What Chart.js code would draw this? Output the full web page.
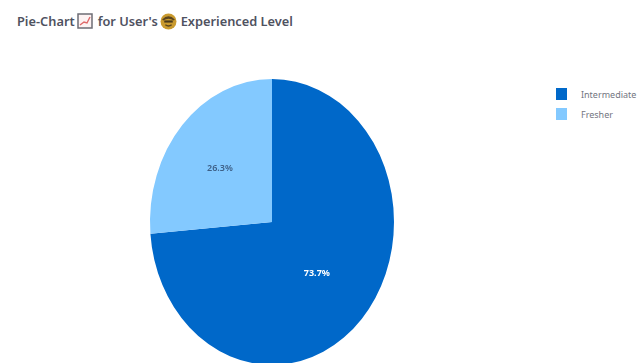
<!DOCTYPE html>
<html>
<head>
<meta charset="utf-8">
<title>Pie-Chart for User's Experienced Level</title>
<script src="https://cdn.jsdelivr.net/npm/chart.js@4"></script>
<style>
  html, body { margin: 0; padding: 0; background: #fff; overflow: hidden; }
  body { width: 638px; height: 363px; position: relative; font-family: "Noto Sans", sans-serif; }
  #heading {
    position: absolute; left: 17px; top: 12px; white-space: nowrap;
    font-size: 12.8px; font-weight: 600; color: #4f525f; line-height: 18px;
    display: flex; align-items: center;
  }
  #heading svg { flex: none; }
  #legend { position: absolute; left: 556px; top: 88px; }
  .item { display: flex; align-items: center; height: 12px; margin-bottom: 8px; font-size: 9px; color: #73767f; white-space: nowrap; }
  .swatch { width: 11px; height: 12px; margin-right: 14px; }
  #wrap { position: absolute; left: 0; top: 0; width: 638px; height: 400px; }
</style>
</head>
<body>
<div id="heading">
  <span>Pie-Chart</span>
  <svg width="16" height="16" viewBox="0 0 16 16" role="img" aria-label="chart" style="margin:0 5px 0 2px">
    <rect x="1" y="1" width="14" height="14" fill="#fdf3f3" stroke="#6d6d75" stroke-width="1.5"/>
    <polyline points="3,12 7,9 10,10 13,4" fill="none" stroke="#e06a6a" stroke-width="1.4"/>
  </svg>
  <span>for User's</span>
  <svg width="17" height="17" viewBox="0 0 16 16" role="img" aria-label="face" style="margin:0 4px 0 2px">
    <circle cx="8" cy="8" r="7.5" fill="#c99a2e"/>
    <path d="M2 6 Q8 0 14 6 L13 7 Q8 4 3 7 Z" fill="#5a4520"/>
    <rect x="4" y="7" width="8" height="2" fill="#4a3a1c"/>
    <path d="M5 11 Q8 13.5 11 11" fill="none" stroke="#5a4520" stroke-width="1.2"/>
  </svg>
  <span>Experienced Level</span>
</div>
<div id="legend"></div>
<div id="wrap"><canvas id="pie" width="638" height="400"></canvas></div>
<script>
const categories = ['Intermediate', 'Fresher'];
const shares = [73.7, 26.3];
const sliceColors = ['#0068c9', '#83c9ff'];
const labelColors = ['#ffffff', '#3d5f86'];
const labelFonts = ['700 9px "Noto Sans", sans-serif', '600 9px "Noto Sans", sans-serif'];

// the pie is taller than it is wide, so arcs get stretched vertically
const stretchY = 143 / 122;
const labelReach = [1, 1.16];

const ellipse = {
  id: 'ellipse',
  beforeDatasetsDraw(chart) {
    const { ctx, chartArea: a } = chart;
    const cy = (a.top + a.bottom) / 2;
    ctx.save();
    ctx.translate(0, cy);
    ctx.scale(1, stretchY);
    ctx.translate(0, -cy);
  },
  afterDatasetsDraw(chart) {
    const { ctx, chartArea: a } = chart;
    const cx = (a.left + a.right) / 2;
    const cy = (a.top + a.bottom) / 2;
    ctx.restore();
    // percent labels, drawn after the restore so the text isn't stretched
    ctx.save();
    ctx.textAlign = 'center';
    ctx.textBaseline = 'middle';
    chart.getDatasetMeta(0).data.forEach((arc, i) => {
      const p = arc.getCenterPoint();
      const x = cx + (p.x - cx) * labelReach[i];
      const y = cy + (p.y - cy) * stretchY * labelReach[i] + 2.5;
      ctx.font = labelFonts[i];
      ctx.fillStyle = labelColors[i];
      ctx.fillText(shares[i].toFixed(1) + '%', x, y);
    });
    ctx.restore();
  }
};

new Chart(document.getElementById('pie'), {
  type: 'pie',
  data: {
    labels: categories,
    datasets: [{ data: shares, backgroundColor: sliceColors, borderWidth: 0 }]
  },
  options: {
    responsive: false,
    animation: false,
    layout: { padding: { left: 150, right: 244, top: 100, bottom: 56 } },
    plugins: { legend: { display: false }, tooltip: { enabled: false } }
  },
  plugins: [ellipse]
});

const legend = document.getElementById('legend');
categories.forEach((name, i) => {
  const row = document.createElement('div');
  row.className = 'item';
  const box = document.createElement('span');
  box.className = 'swatch';
  box.style.background = sliceColors[i];
  row.appendChild(box);
  row.appendChild(document.createTextNode(name));
  legend.appendChild(row);
});
</script>
</body>
</html>
